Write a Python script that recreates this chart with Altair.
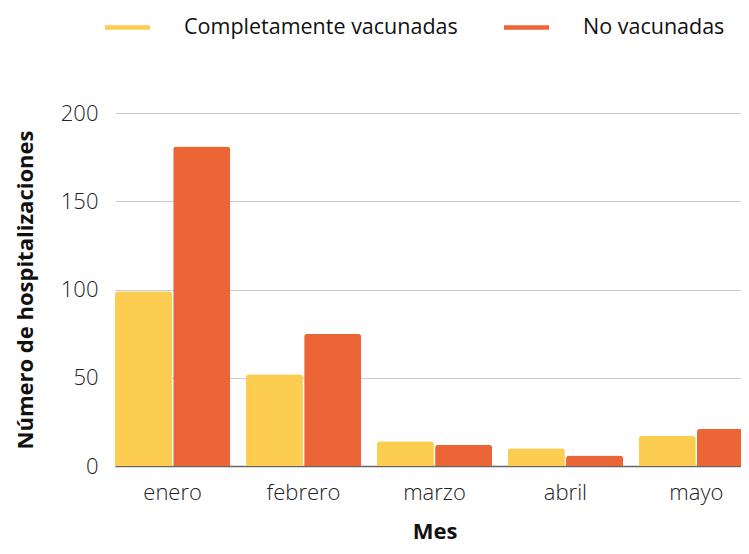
import altair as alt
import pandas as pd

months = ["enero", "febrero", "marzo", "abril", "mayo"]
groups = ["Completamente vacunadas", "No vacunadas"]
vacunadas = [99, 52, 14, 10, 17]
no_vacunadas = [181, 75, 12, 6, 21]
colors = ["#FDCD52", "#EB6537"]

rows = []
for i, m in enumerate(months):
    rows.append({"Mes": m, "Grupo": groups[0], "Valor": vacunadas[i]})
    rows.append({"Mes": m, "Grupo": groups[1], "Valor": no_vacunadas[i]})
df = pd.DataFrame(rows)

font = "Open Sans"

chart = alt.Chart(df).mark_bar(
    cornerRadiusTopLeft=3, cornerRadiusTopRight=3
).encode(
    x=alt.X("Mes:N", sort=months, title="Mes",
            scale=alt.Scale(paddingInner=0.12, paddingOuter=0, range=[0, 639]),
            axis=alt.Axis(labelAngle=0, ticks=False, labelPadding=16,
                          labelFontSize=22, labelFontWeight=300, labelColor="#222",
                          titleFontSize=22, titleFontWeight="bold", titlePadding=18,
                          titleColor="#111", domainColor="#666", domainWidth=1.5)),
    xOffset=alt.XOffset("Grupo:N", sort=groups, scale=alt.Scale(paddingInner=0.02)),
    y=alt.Y("Valor:Q", title="Número de hospitalizaciones",
            scale=alt.Scale(domain=[0, 200]),
            axis=alt.Axis(values=[0, 50, 100, 150, 200], ticks=False, domain=False,
                          labelPadding=17, labelFontSize=22, labelFontWeight=300,
                          labelColor="#222", titleFontSize=22, titleFontWeight="bold",
                          titleColor="#111", titlePadding=23, gridColor="#cccccc")),
    color=alt.Color("Grupo:N", sort=groups,
                    scale=alt.Scale(domain=groups, range=colors),
                    legend=alt.Legend(title=None, orient="none", direction="horizontal",
                                      legendX=-10, legendY=-108,
                                      symbolType="M-1,-0.1L1,-0.1L1,0.1L-1,0.1Z",
                                      symbolSize=2025, symbolStrokeWidth=0,
                                      labelFontSize=21.5, labelLimit=0,
                                      labelFont=font, labelColor="#111",
                                      labelOffset=34, columnPadding=46)),
).properties(
    width=626, height=353,
    autosize=alt.AutoSizeParams(type="none"),
    padding={"left": 107, "top": 105, "right": 0, "bottom": 80},
).configure(font=font).configure_view(stroke=None)

chart.save("out.html", embed_options={"renderer": "svg", "actions": False})
